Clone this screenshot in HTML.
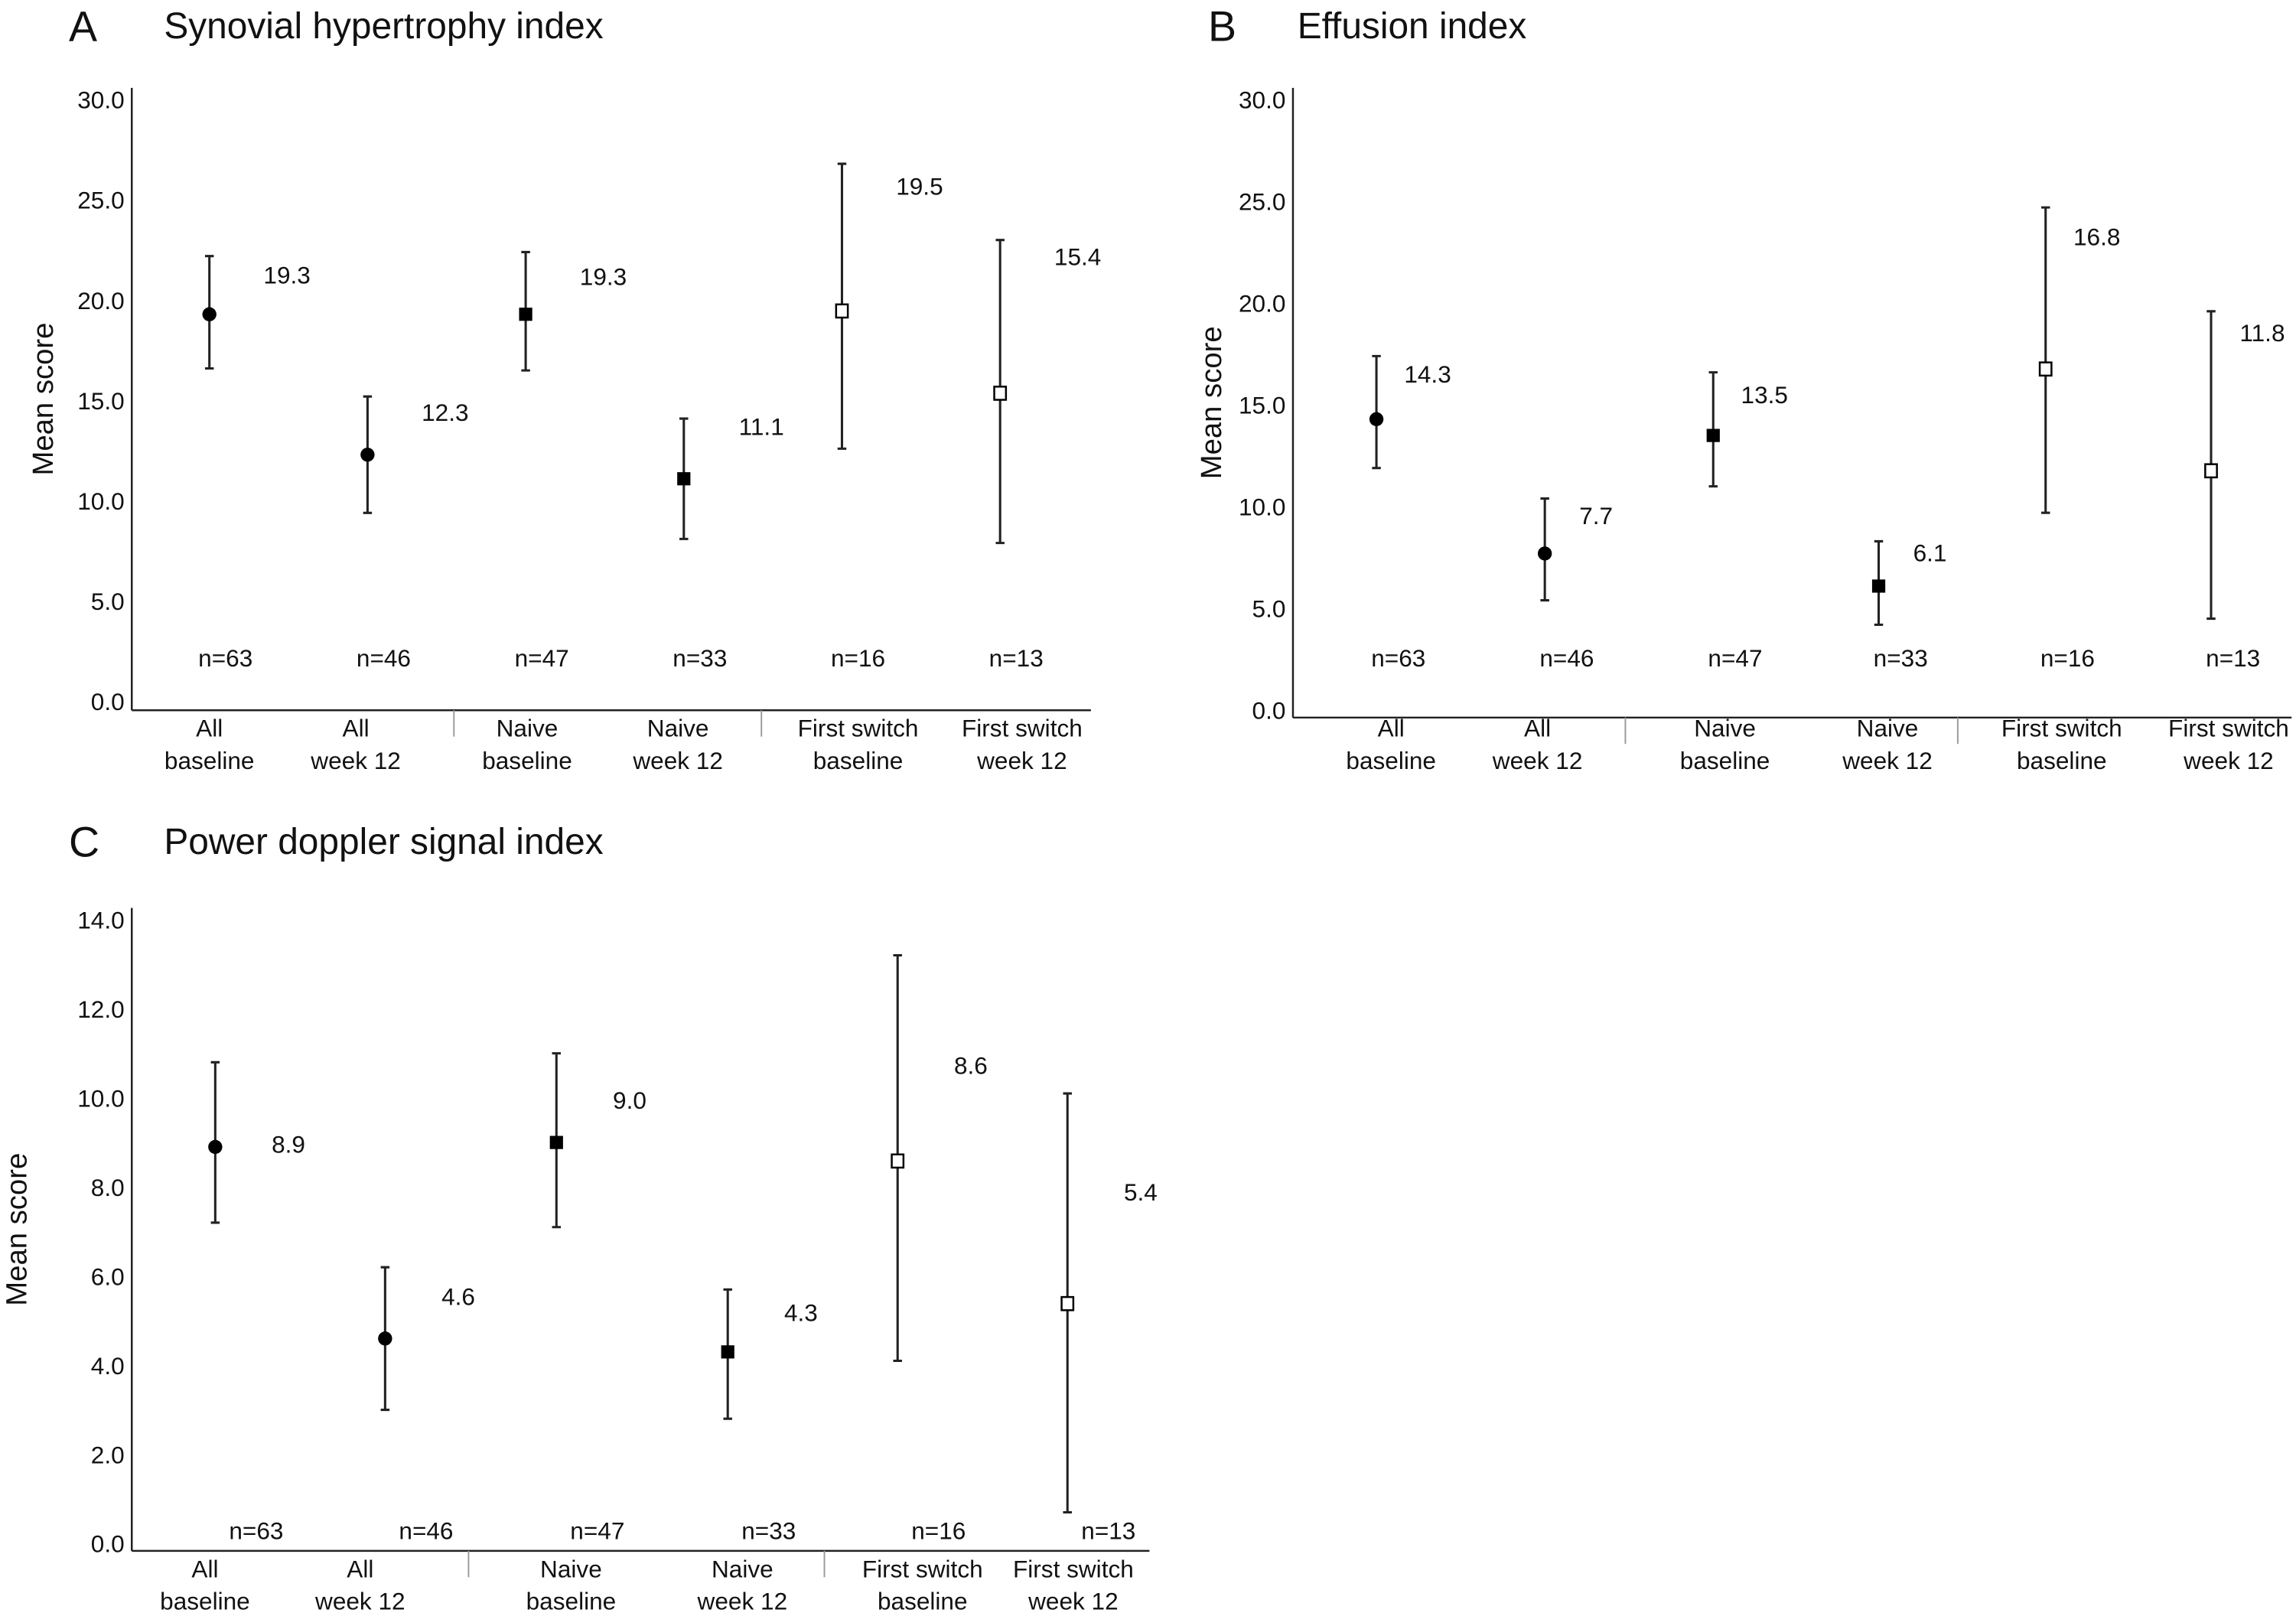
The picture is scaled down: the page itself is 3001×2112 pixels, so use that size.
<!DOCTYPE html>
<html><head><meta charset="utf-8"><style>
html,body{margin:0;padding:0;background:#fff}
svg{display:block}
text{font-family:"Liberation Sans",sans-serif;fill:#111}
</style></head><body>
<svg id="fig" width="3001" height="2112" viewBox="0 0 1568 1103.5"></svg>
<script>
const categories=[["All","baseline"],["All","week 12"],["Naive","baseline"],["Naive","week 12"],["First switch","baseline"],["First switch","week 12"]];
const markerTypes=["circle","circle","square","square","open","open"];
const nLabels=["n=63","n=46","n=47","n=33","n=16","n=13"];
const meanA=[19.3,12.3,19.3,11.1,19.5,15.4];
const lowA=[16.6,9.4,16.5,8.1,12.6,7.9];
const highA=[22.2,15.2,22.4,14.1,26.8,23.0];
const meanB=[14.3,7.7,13.5,6.1,16.8,11.8];
const lowB=[11.9,5.4,11.0,4.2,9.7,4.5];
const highB=[17.4,10.4,16.6,8.3,24.7,19.6];
const meanC=[8.9,4.6,9.0,4.3,8.6,5.4];
const lowC=[7.2,3.0,7.1,2.8,4.1,0.7];
const highC=[10.8,6.2,11.0,5.7,13.2,10.1];
const ticksAB=[0,5,10,15,20,25,30];
const ticksC=[0,2,4,6,8,10,12,14];

const NS="http://www.w3.org/2000/svg";
const svg=document.getElementById('fig');
function el(tag,attrs,parent,text){const e=document.createElementNS(NS,tag);for(const k in attrs)e.setAttribute(k,attrs[k]);if(text!==undefined)e.textContent=text;(parent||svg).appendChild(e);return e;}

function panel(cfg){
  const g=el('g',{});
  
  
  const y=v=>cfg.y0-(v-0)*(cfg.y0-cfg.yTop)/cfg.max;
  const letter=el('text',{x:cfg.letterX,y:cfg.titleY,'font-size':29},g,cfg.letter);
  
  
  const title=el('text',{x:cfg.titleX,y:cfg.titleY-2,'font-size':25},g,cfg.title);
  
  
  const ax=el('line',{x1:cfg.ax,y1:cfg.axTop,x2:cfg.ax,y2:cfg.axY,stroke:'#222','stroke-width':1.3},g);
  
  
  const xa=el('line',{x1:cfg.ax,y1:cfg.axY,x2:cfg.axRight,y2:cfg.axY,stroke:'#222','stroke-width':1.3},g);
  
  
  cfg.seps.forEach(sx=>{
    const s=el('line',{x1:sx,y1:cfg.axY,x2:sx,y2:cfg.axY+18,stroke:'#999','stroke-width':1},g);
    
    
  });
  cfg.ticks.forEach(t=>{
    const tl=el('text',{x:cfg.ax-5,y:y(t)+6,'font-size':16.5,'text-anchor':'end'},g,t.toFixed(1));
    
    
  });
  const yt=el('text',{x:0,y:0,'font-size':20,'text-anchor':'middle',transform:`translate(${cfg.ytX},${(cfg.axTop+cfg.axY)/2}) rotate(-90)`},g,'Mean score');
  
  
  categories.forEach((c,i)=>{
    const cx=cfg.catX[i];
    const lx=cfg.catLabelX[i];
    const t1=el('text',{x:lx,y:cfg.labY,'font-size':16.5,'text-anchor':'middle'},g,c[0]);
    
    
    const t2=el('text',{x:lx,y:cfg.labY+22,'font-size':16.5,'text-anchor':'middle'},g,c[1]);
    
    
    const nl=el('text',{x:cx+cfg.nOff,y:cfg.nY,'font-size':16.5,'text-anchor':'middle'},g,nLabels[i]);
    
    
    const yl=y(cfg.low[i]),yh=y(cfg.high[i]),ym=y(cfg.mean[i]);
    const eb=el('path',{d:`M${cx},${yl}V${yh}M${cx-3},${yl}H${cx+3}M${cx-3},${yh}H${cx+3}`,stroke:'#222','stroke-width':1.6,fill:'none'},g);
    
    
    let m;
    if(markerTypes[i]==='circle') m=el('circle',{cx:cx,cy:ym,r:4.8,fill:'#000'},g);
    else if(markerTypes[i]==='square') m=el('rect',{x:cx-4.5,y:ym-4.5,width:9,height:9,fill:'#000'},g);
    else m=el('rect',{x:cx-4,y:ym-4,width:8,height:9,fill:'#fff',stroke:'#000','stroke-width':1.3},g);
    
    
    const vl=el('text',{x:cx+cfg.valOff,y:ym+cfg.valDy[i],'font-size':16.5,'text-anchor':'middle'},g,cfg.mean[i].toFixed(1));
    
    
  });
}
panel({id:'a',letter:'A',title:'Synovial hypertrophy index',letterX:47,titleX:112,titleY:28,ax:90,axTop:60,axY:485,axRight:745,y0:479,yTop:68,max:30,ticks:ticksAB,
  catX:[143,251,359,467,575,683],catLabelX:[143,243,360,463,586,698],seps:[310,520],nOff:11,nY:455,ytX:36,labY:503,
  mean:meanA,low:lowA,high:highA,valOff:53,valDy:[-21,-23,-20,-30,-79,-87]});
panel({id:'b',letter:'B',title:'Effusion index',letterX:825,titleX:886,titleY:28,ax:883,axTop:60,axY:490,axRight:1565,y0:485,yTop:68,max:30,ticks:ticksAB,
  catX:[940,1055,1170,1283,1397,1510],catLabelX:[950,1050,1178,1289,1408,1522],seps:[1110,1337],nOff:15,nY:455,ytX:834,labY:503,
  mean:meanB,low:lowB,high:highB,valOff:35,valDy:[-25,-20,-22,-17,-84,-88]});
panel({id:'c',letter:'C',title:'Power doppler signal index',letterX:47,titleX:112,titleY:585,ax:90,axTop:620,axY:1059,axRight:785,y0:1054,yTop:628,max:14,ticks:ticksC,
  catX:[147,263,380,497,613,729],catLabelX:[140,246,390,507,630,733],seps:[320,563],nOff:28,nY:1051,ytX:18,labY:1077,
  mean:meanC,low:lowC,high:highC,valOff:50,valDy:[4,-23,-23,-21,-59,-70]});
</script>
</body></html>
